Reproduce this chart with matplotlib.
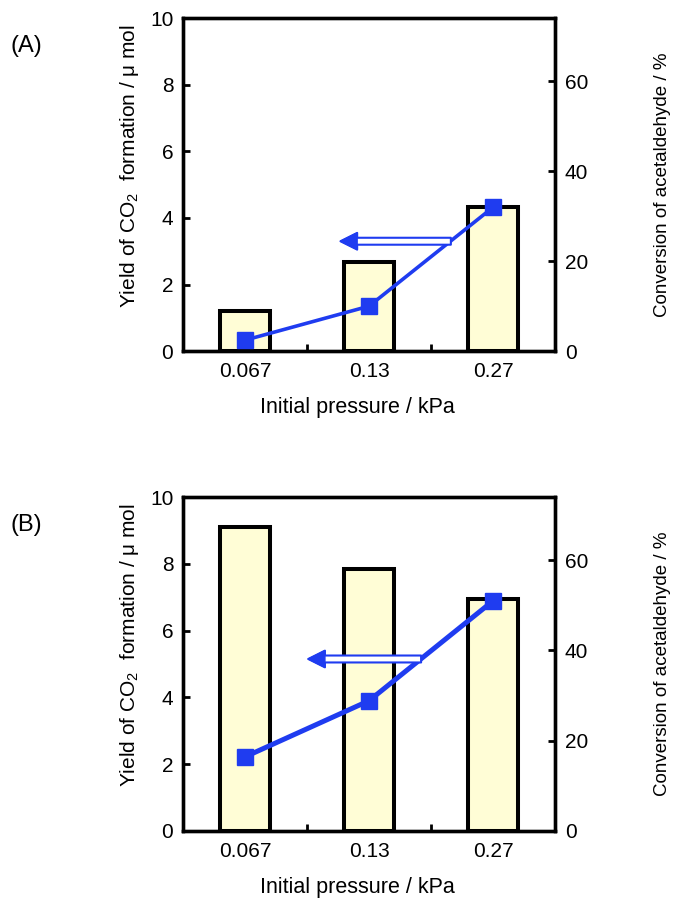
import matplotlib
matplotlib.use("Agg")
import matplotlib.pyplot as plt
import numpy as np

plt.rcParams['font.family'] = ['Liberation Sans', 'DejaVu Sans']
plt.rcParams['mathtext.fontset'] = 'custom'
plt.rcParams['mathtext.rm'] = 'Liberation Sans'

categories = ["0.067", "0.13", "0.27"]
conv_A = [8.9, 19.9, 32.1]      # conversion of acetaldehyde / %  (bars, right axis)
yield_A = [0.33, 1.35, 4.32]    # yield of CO2 / umol (line, left axis)
conv_B = [67.4, 58.0, 51.3]
yield_B = [2.22, 3.90, 6.89]
panel_labels = ["(A)", "(B)"]
arrow_A = dict(tip=(0.77, 3.3), tail=(1.66, 3.3))
arrow_B = dict(tip=(0.51, 5.15), tail=(1.42, 5.15))

BLUE = '#1f3cf0'
BAR_FC = '#fffdd6'

fig = plt.figure(figsize=(6.74, 9.05), dpi=100)

def panel(rect, conv, yld, lab, arr, lw_line):
    ax = fig.add_axes(rect)
    ax2 = ax.twinx()
    x = np.arange(len(categories))
    ax2.bar(x, conv, width=0.41, color=BAR_FC, edgecolor='black', linewidth=2.9, zorder=2)
    ax.plot(x, yld, color=BLUE, lw=lw_line, marker='s', markersize=11, zorder=5)
    ax.annotate('', xy=arr['tip'], xytext=arr['tail'],
                arrowprops=dict(arrowstyle='simple,head_length=1.2,head_width=1.2,tail_width=0.5',
                                fc='white', ec=BLUE, lw=1.5, shrinkA=0, shrinkB=0), zorder=6)
    ax.annotate('', xy=arr['tip'], xytext=(arr['tip'][0] + 0.13, arr['tip'][1]),
                arrowprops=dict(arrowstyle='simple,head_length=1.2,head_width=1.2,tail_width=0.01',
                                fc=BLUE, ec=BLUE, lw=1.0, shrinkA=0, shrinkB=0), zorder=7)
    ax.set_zorder(ax2.get_zorder() + 1)
    ax.patch.set_visible(False)
    ax.set_xlim(-0.5, 2.5)
    ax.set_ylim(0, 10)
    ax2.set_ylim(0, 74)
    ax.set_yticks([0, 2, 4, 6, 8, 10])
    ax2.set_yticks([0, 20, 40, 60])
    ax.set_xticks(x)
    ax.set_xticklabels(categories)
    ax.set_xticks([0.5, 1.5], minor=True)
    ax.tick_params(axis='x', which='major', length=0, labelsize=15, pad=8)
    ax.tick_params(axis='x', which='minor', direction='in', length=5, width=2)
    ax.tick_params(axis='y', direction='in', length=5, width=2, labelsize=15, pad=7)
    ax2.tick_params(axis='y', direction='in', length=5, width=2, labelsize=15, pad=7)
    for a in (ax, ax2):
        for s in a.spines.values():
            s.set_linewidth(2.4)
    ax.set_xlabel('Initial pressure / kPa', fontsize=15.5)
    ax.xaxis.set_label_coords(0.47, -0.137)
    ax.set_ylabel('Yield of CO$_2$  formation / \u03bc mol', fontsize=15)
    ax.yaxis.set_label_coords(-0.112, 0.557)
    ax2.set_ylabel('Conversion of acetaldehyde / %', fontsize=13.5)
    ax2.yaxis.set_label_coords(1.266, 0.5)
    fig.text(0.016, rect[1] + rect[3] - 0.031, lab, fontsize=17, va='center', ha='left')

panel([0.2715, 0.612, 0.552, 0.368], conv_A, yield_A, panel_labels[0], arrow_A, 2.6)
panel([0.2715, 0.0818, 0.552, 0.369], conv_B, yield_B, panel_labels[1], arrow_B, 3.6)

fig.savefig('out.png', dpi=100)
